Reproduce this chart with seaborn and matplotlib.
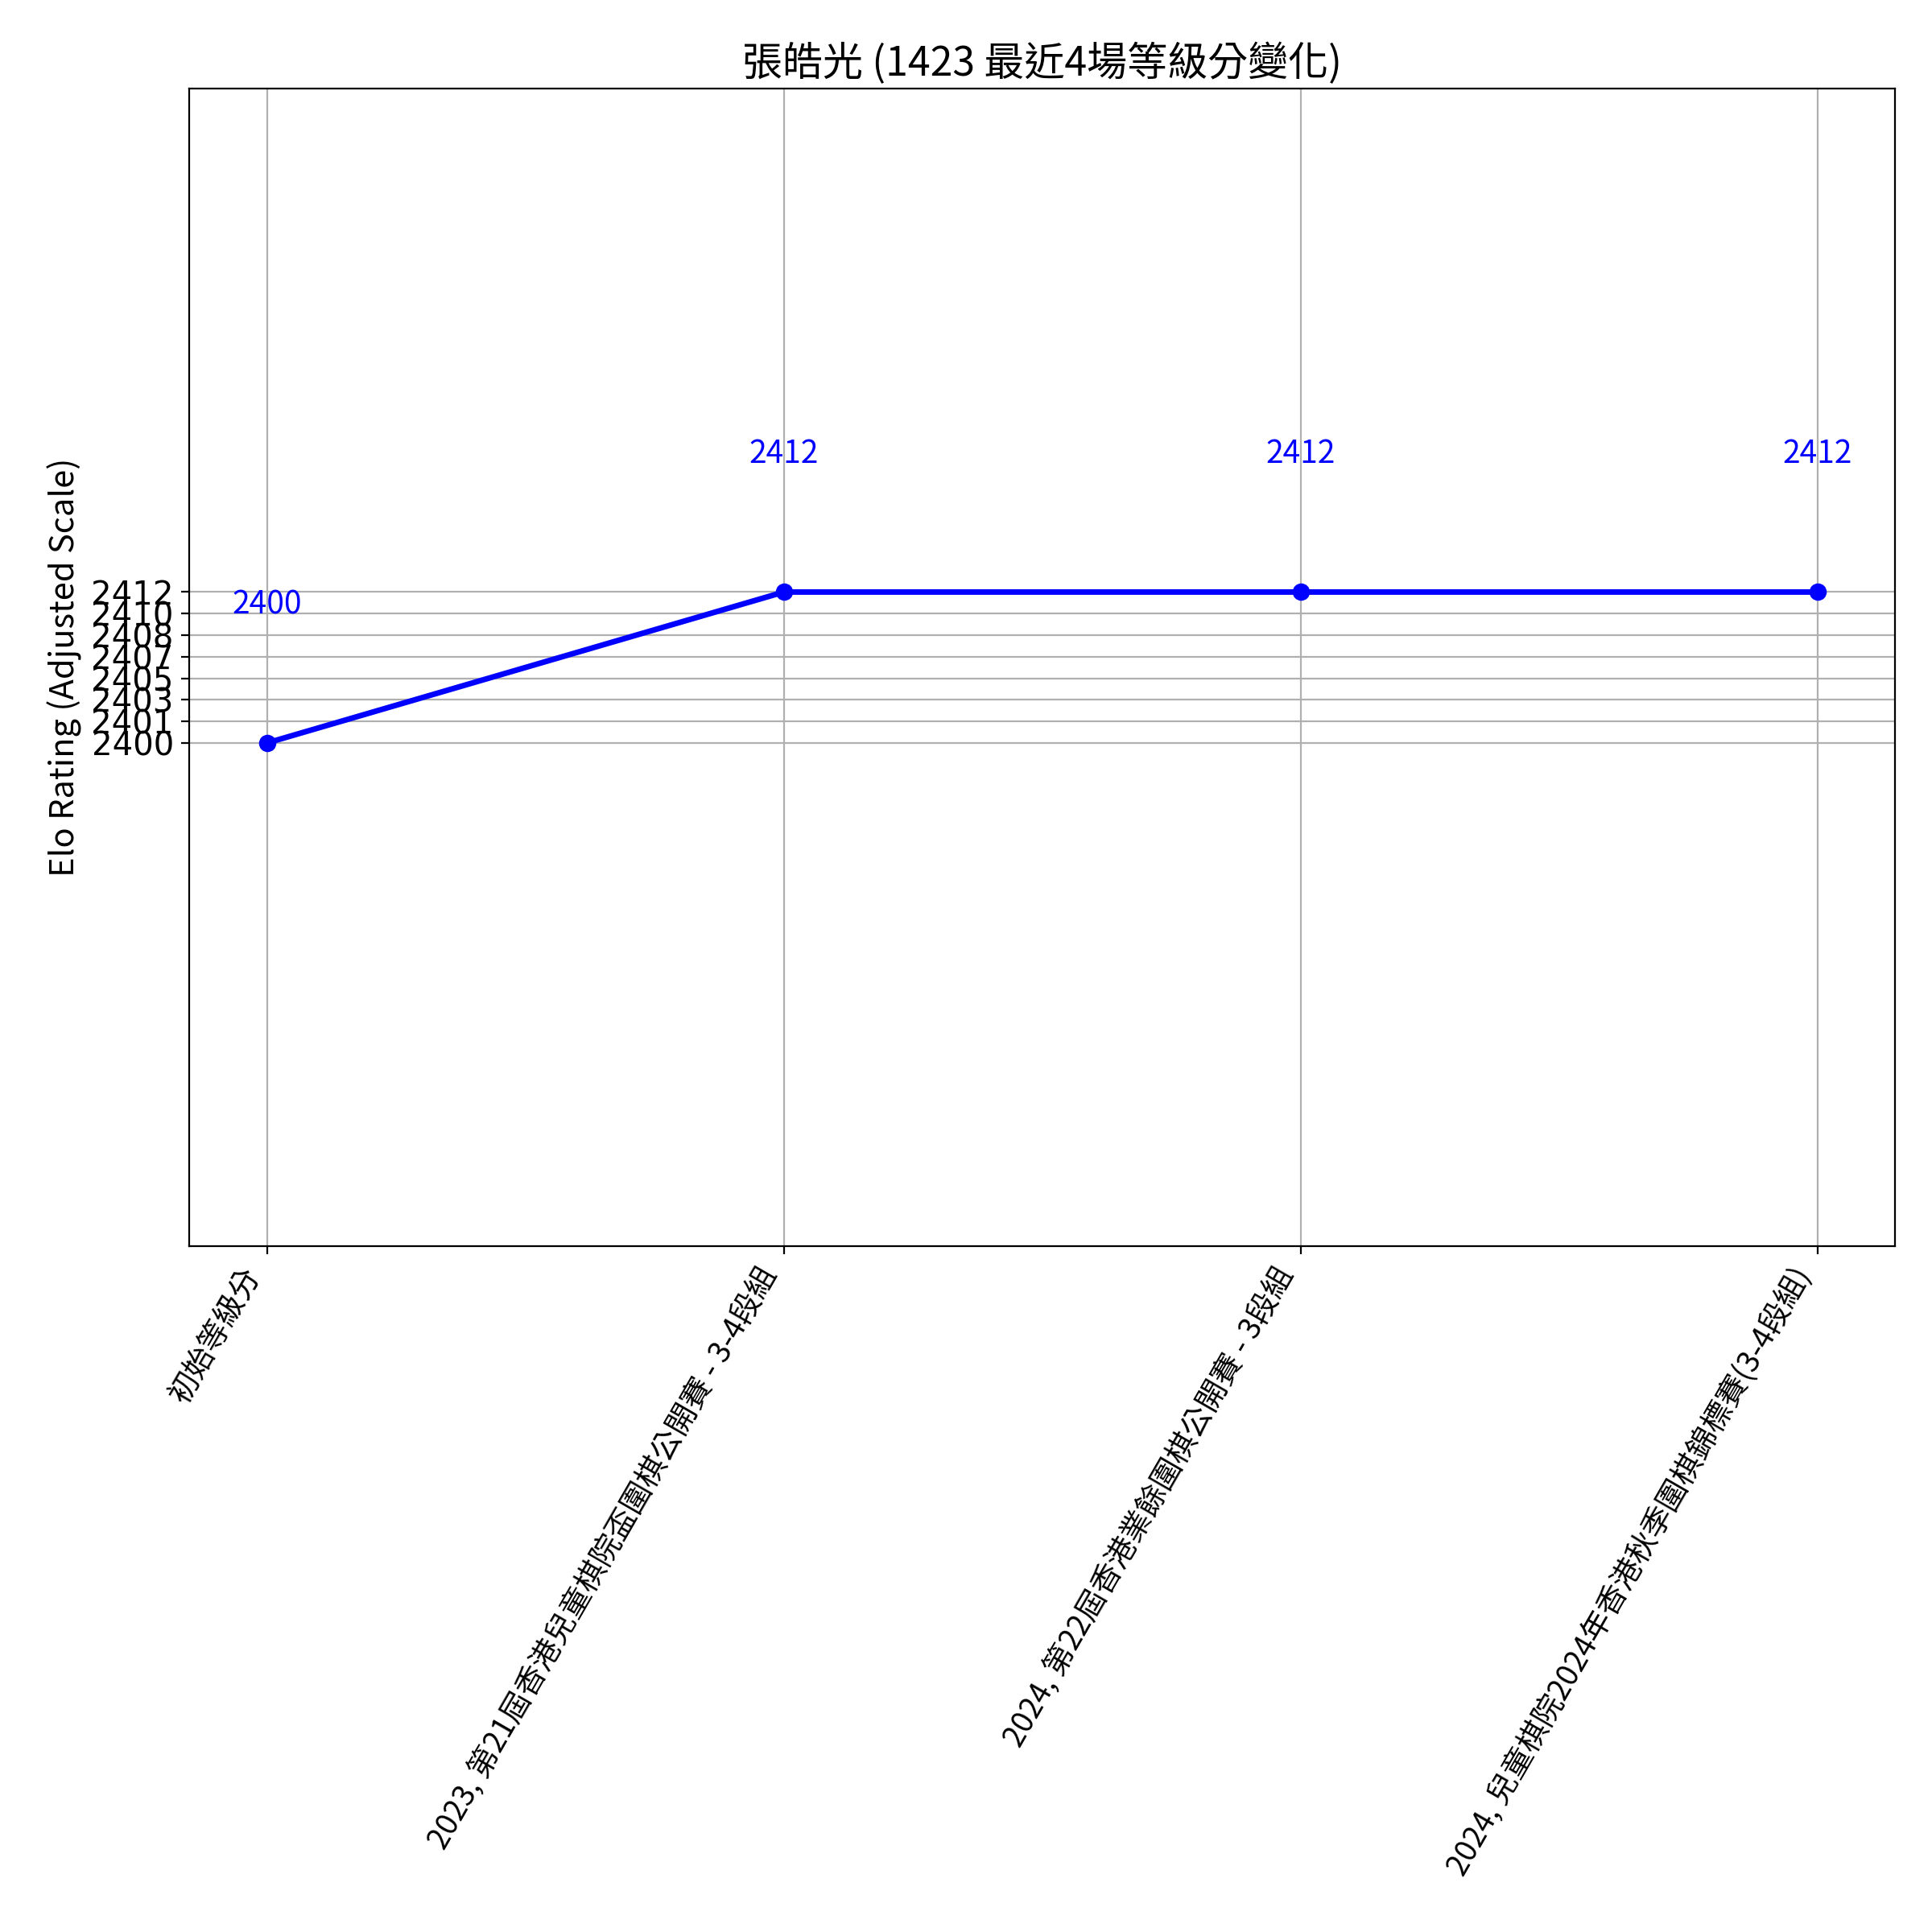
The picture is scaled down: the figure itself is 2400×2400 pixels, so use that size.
import numpy as np
import pandas as pd
import matplotlib
matplotlib.use("Agg")
import matplotlib.pyplot as plt
import seaborn as sns

# Data
events = [
    "初始等級分",
    "2023, 第21屆香港兒童棋院盃圍棋公開賽 - 3-4段組",
    "2024, 第22屆香港業餘圍棋公開賽 - 3段組",
    "2024, 兒童棋院2024年香港秋季圍棋錦標賽(3-4段組)",
]
ratings = [2400, 2412, 2412, 2412]
ytick_labels = ["2400", "2401", "2403", "2405", "2407", "2408", "2410", "2412"]

df = pd.DataFrame({"event": events, "rating": ratings})

plt.rcParams['font.family'] = ['Noto Sans CJK TC', 'DejaVu Sans']

fig, ax = plt.subplots(figsize=(12, 12), dpi=200)
fig.subplots_adjust(left=0.098, right=0.981, bottom=0.355, top=0.954)

sns.lineplot(data=df, x="event", y="rating", marker="o", color="blue",
             linewidth=2.5, markersize=7, markeredgecolor="blue", ax=ax, sort=False)

# value labels above each point
for i, r in enumerate(ratings):
    ax.text(i, r + 9.7, str(r), color="blue", ha="center", va="bottom", fontsize=14)

ax.set_ylim(min(ratings) - 40, max(ratings) + 40)
yt = np.linspace(min(ratings), max(ratings), len(ytick_labels))
ax.set_yticks(yt)
ax.set_yticklabels(ytick_labels, fontsize=14.5, family="DejaVu Sans")

ax.set_xticks(range(len(events)))
ax.set_xticklabels(events, rotation=60, ha="right", fontsize=13.5)

ax.set_title("張皓光 (1423 最近4場等級分變化)", fontsize=18)
ax.set_xlabel("")
ax.set_ylabel("Elo Rating (Adjusted Scale)", fontsize=15)
ax.grid(True, color="#b0b0b0")

plt.savefig("out.png")
